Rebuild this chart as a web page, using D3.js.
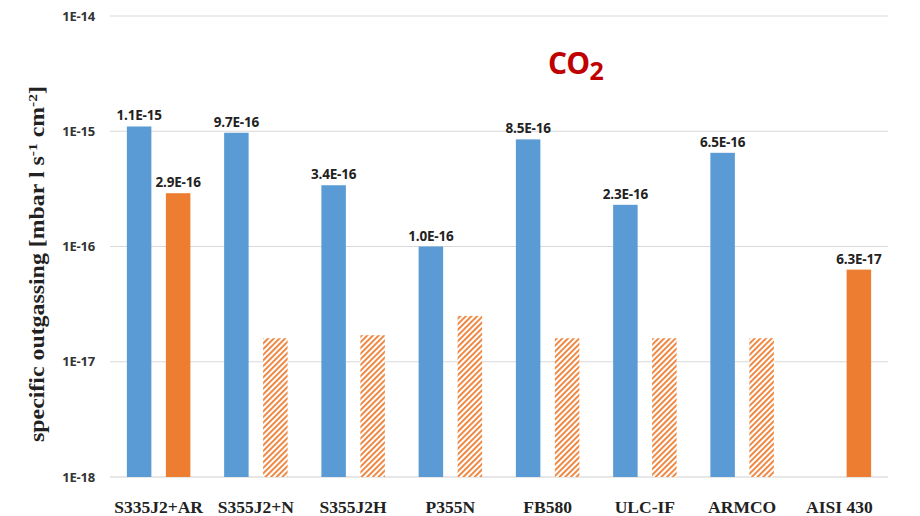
<!DOCTYPE html>
<html>
<head>
<meta charset="utf-8">
<script src="https://cdn.jsdelivr.net/npm/d3@7"></script>
<style>
  body { margin: 0; background: #fff; }
  svg { display: block; }
</style>
</head>
<body>
<svg id="chart" width="920" height="516"></svg>
<script>
// Steel grades on the x axis
const categories = ["S335J2+AR", "S355J2+N", "S355J2H", "P355N", "FB580", "ULC-IF", "ARMCO", "AISI 430"];
// First series (blue), specific outgassing of CO2
const blueValues = [1.1e-15, 9.7e-16, 3.4e-16, 1.0e-16, 8.5e-16, 2.3e-16, 6.5e-16, null];
const blueLabels = ["1.1E-15", "9.7E-16", "3.4E-16", "1.0E-16", "8.5E-16", "2.3E-16", "6.5E-16", null];
// Second series (orange); hatched bars are detection-limit estimates without a label
const orangeValues = [2.9e-16, 1.6e-17, 1.7e-17, 2.5e-17, 1.6e-17, 1.6e-17, 1.6e-17, 6.3e-17];
const orangeHatched = [false, true, true, true, true, true, true, false];
const orangeLabels = ["2.9E-16", null, null, null, null, null, null, "6.3E-17"];
// Decade ticks of the log axis
const yTicks = [1e-18, 1e-17, 1e-16, 1e-15, 1e-14];
const yTickLabels = ["1E-18", "1E-17", "1E-16", "1E-15", "1E-14"];

const svg = d3.select("#chart");
const plotLeft = 110, plotRight = 888, plotTop = 16, plotBottom = 477;

const x = d3.scaleBand().domain(categories).range([plotLeft, plotRight]).paddingInner(0).paddingOuter(0);
const y = d3.scaleLog().domain([1e-18, 1e-14]).range([plotBottom, plotTop]);

const barW = 24.5;
const offset = 19.5; // distance of each bar centre from the category centre

// Stripe pattern for hatched bars
const defs = svg.append("defs");
const pat = defs.append("pattern")
  .attr("id", "hatch")
  .attr("patternUnits", "userSpaceOnUse")
  .attr("width", 4).attr("height", 4)
  .attr("patternTransform", "rotate(45)");
pat.append("rect").attr("width", 4).attr("height", 4).attr("fill", "#fff");
pat.append("rect").attr("x", 0).attr("y", 0).attr("width", 1.8).attr("height", 4).attr("fill", "#ED7D31");

// Gridlines
svg.append("g")
  .selectAll("line")
  .data(yTicks)
  .join("line")
  .attr("x1", plotLeft).attr("x2", plotRight)
  .attr("y1", d => y(d)).attr("y2", d => y(d))
  .attr("stroke", d => d === 1e-18 ? "#d0d0d0" : "#d9d9d9")
  .attr("stroke-width", 1.2);

// Y axis tick labels
const yAxis = d3.axisLeft(y).tickValues(yTicks).tickFormat((d, i) => yTickLabels[i]).tickSize(0).tickPadding(0);
const gy = svg.append("g").attr("transform", `translate(${plotLeft - 15},0)`).call(yAxis);
gy.select(".domain").remove();
gy.selectAll("text")
  .attr("font-family", "'Open Sans', 'Noto Sans', sans-serif")
  .attr("font-weight", "bold")
  .attr("font-size", 13)
  .attr("fill", "#333")
  .attr("letter-spacing", "-0.2px");

// X axis labels
const xAxis = d3.axisBottom(x).tickSize(0).tickPadding(0);
const gx = svg.append("g").attr("transform", `translate(0,${plotBottom + 36})`).call(xAxis);
gx.select(".domain").remove();
gx.selectAll("text")
  .attr("font-family", "'Liberation Serif', 'Times New Roman', serif")
  .attr("font-weight", "bold")
  .attr("font-size", 17.5)
  .attr("fill", "#222")
  .attr("dy", "0");

// Blue bars
const blueIdx = categories.map((c, i) => i).filter(i => blueValues[i] != null);
const blueX = i => x(categories[i]) + x.bandwidth() / 2 - offset - barW / 2;
svg.append("g").selectAll("rect")
  .data(blueIdx)
  .join("rect")
  .attr("x", blueX)
  .attr("width", barW)
  .attr("y", i => y(blueValues[i]))
  .attr("height", i => plotBottom - y(blueValues[i]))
  .attr("fill", "#5B9BD5");

// Orange bars (solid or hatched)
const orangeIdx = categories.map((c, i) => i).filter(i => orangeValues[i] != null);
const orangeX = i => x(categories[i]) + x.bandwidth() / 2 + offset - barW / 2;
svg.append("g").selectAll("rect")
  .data(orangeIdx)
  .join("rect")
  .attr("x", orangeX)
  .attr("width", barW)
  .attr("y", i => y(orangeValues[i]))
  .attr("height", i => plotBottom - y(orangeValues[i]))
  .attr("fill", i => orangeHatched[i] ? "url(#hatch)" : "#ED7D31");

// Value labels
const labelFont = "'Open Sans', 'Noto Sans', sans-serif";
svg.append("g").selectAll("text")
  .data(blueIdx.filter(i => blueLabels[i]))
  .join("text")
  .attr("x", i => blueX(i) + barW / 2)
  .attr("y", i => y(blueValues[i]) - 6)
  .attr("text-anchor", "middle")
  .attr("font-family", labelFont)
  .attr("font-weight", "bold")
  .attr("font-size", 13.5)
  .attr("letter-spacing", "-0.2px")
  .attr("fill", "#222")
  .text(i => blueLabels[i]);

svg.append("g").selectAll("text")
  .data(orangeIdx.filter(i => orangeLabels[i]))
  .join("text")
  .attr("x", i => orangeX(i) + barW / 2)
  .attr("y", i => y(orangeValues[i]) - 6)
  .attr("text-anchor", "middle")
  .attr("font-family", labelFont)
  .attr("font-weight", "bold")
  .attr("font-size", 13.5)
  .attr("letter-spacing", "-0.2px")
  .attr("fill", "#222")
  .text(i => orangeLabels[i]);

// Y axis title
const yt = svg.append("text")
  .attr("transform", `translate(44,264) rotate(-90)`)
  .attr("text-anchor", "middle")
  .attr("font-family", "'Liberation Serif', 'Times New Roman', serif")
  .attr("font-weight", "bold")
  .attr("font-size", 20)
  .attr("textLength", 356)
  .attr("lengthAdjust", "spacingAndGlyphs")
  .attr("fill", "#222");
yt.append("tspan").text("specific outgassing [mbar l s");
yt.append("tspan").attr("dy", -7).attr("font-size", 13).text("-1");
yt.append("tspan").attr("dy", 7).text(" cm");
yt.append("tspan").attr("dy", -7).attr("font-size", 13).text("-2");
yt.append("tspan").attr("dy", 7).text("]");

// Chart title
const title = svg.append("text")
  .attr("x", 548).attr("y", 74)
  .attr("font-family", "'Open Sans', 'Noto Sans', sans-serif")
  .attr("font-weight", "bold")
  .attr("font-size", 30)
  .attr("letter-spacing", "-0.8px")
  .attr("fill", "#C00000");
title.append("tspan").text("CO");
title.append("tspan").attr("dy", 6).attr("font-size", 25).text("2");
</script>
</body>
</html>
